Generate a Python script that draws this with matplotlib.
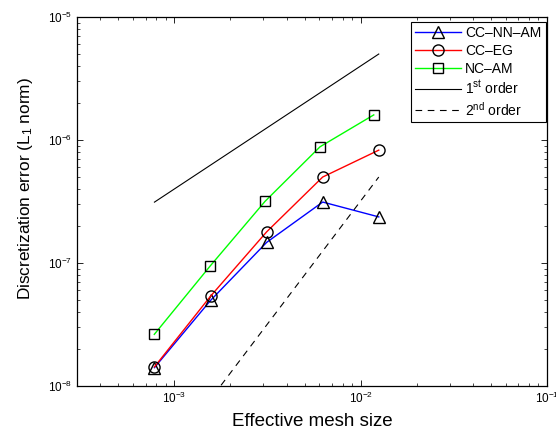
import matplotlib
matplotlib.use("Agg")
import matplotlib.pyplot as plt
import numpy as np

plt.rcParams['font.family'] = ['Liberation Sans', 'DejaVu Sans']
plt.rcParams['mathtext.fontset'] = 'custom'
plt.rcParams['mathtext.rm'] = 'Liberation Sans'
plt.rcParams['mathtext.it'] = 'Liberation Sans:italic'
plt.rcParams['mathtext.bf'] = 'Liberation Sans:bold'
plt.rcParams['mathtext.default'] = 'regular'

# Data
h_cc = [7.8125e-4, 1.5625e-3, 3.125e-3, 6.25e-3, 1.25e-2]
h_nc = [7.8e-4, 1.56e-3, 3.07e-3, 6.05e-3, 1.175e-2]
err_cc_nn_am = [1.41e-8, 4.96e-8, 1.47e-7, 3.13e-7, 2.37e-7]
err_cc_eg = [1.43e-8, 5.37e-8, 1.79e-7, 5.0e-7, 8.27e-7]
err_nc_am = [2.63e-8, 9.5e-8, 3.18e-7, 8.81e-7, 1.60e-6]
ref_h = [7.8125e-4, 1.25e-2]
ref_first = [3.125e-7, 5.0e-6]
ref_second = [1.953e-9, 5.0e-7]

labels = ['CC\u2013NN\u2013AM', 'CC\u2013EG', 'NC\u2013AM',
          r'1$^{\rm st}$ order', r'2$^{\rm nd}$ order']

fig = plt.figure(figsize=(5.56, 4.33), dpi=100)
ax = fig.add_axes([77/556, 1-386/433, (547-77)/556, (386-17)/433])

mk = dict(markerfacecolor='none', markeredgecolor='black', markeredgewidth=1.0)
ax.loglog(h_cc, err_cc_nn_am, '-', color='#0000ff', marker='^', markersize=8, lw=1.0, label=labels[0], **mk)
ax.loglog(h_cc, err_cc_eg, '-', color='#ff0000', marker='o', markersize=8, lw=1.0, label=labels[1], **mk)
ax.loglog(h_nc, err_nc_am, '-', color='#00ff00', marker='s', markersize=6.8, lw=1.0, label=labels[2], **mk)
ax.loglog(ref_h, ref_first, '-', color='black', lw=0.8, label=labels[3])
ax.loglog(ref_h, ref_second, '--', color='black', lw=0.8, dashes=(6, 5), label=labels[4])

ax.set_xlim(3e-4, 1e-1)
ax.set_ylim(1e-8, 1e-5)

ax.tick_params(which='both', direction='in', top=True, right=True, labelsize=8.5)
ax.tick_params(which='major', length=4, width=0.6)
ax.tick_params(which='minor', length=2.2, width=0.5)
for s in ax.spines.values():
    s.set_linewidth(0.9)

ax.set_xlabel('Effective mesh size', fontsize=13.5, labelpad=5)
ax.set_ylabel(r'Discretization error (L$_1$ norm)', fontsize=12.4, labelpad=9)
ax.yaxis.label.set_y(0.534)

leg = ax.legend(loc='upper right', bbox_to_anchor=(0.997, 0.986), fontsize=10,
                frameon=True, fancybox=False, edgecolor='black', framealpha=1,
                handlelength=3.3, handletextpad=0.3, labelspacing=0.26,
                borderpad=0.3, borderaxespad=0.0)
leg.get_frame().set_linewidth(0.8)

fig.savefig('out.png', dpi=100)
